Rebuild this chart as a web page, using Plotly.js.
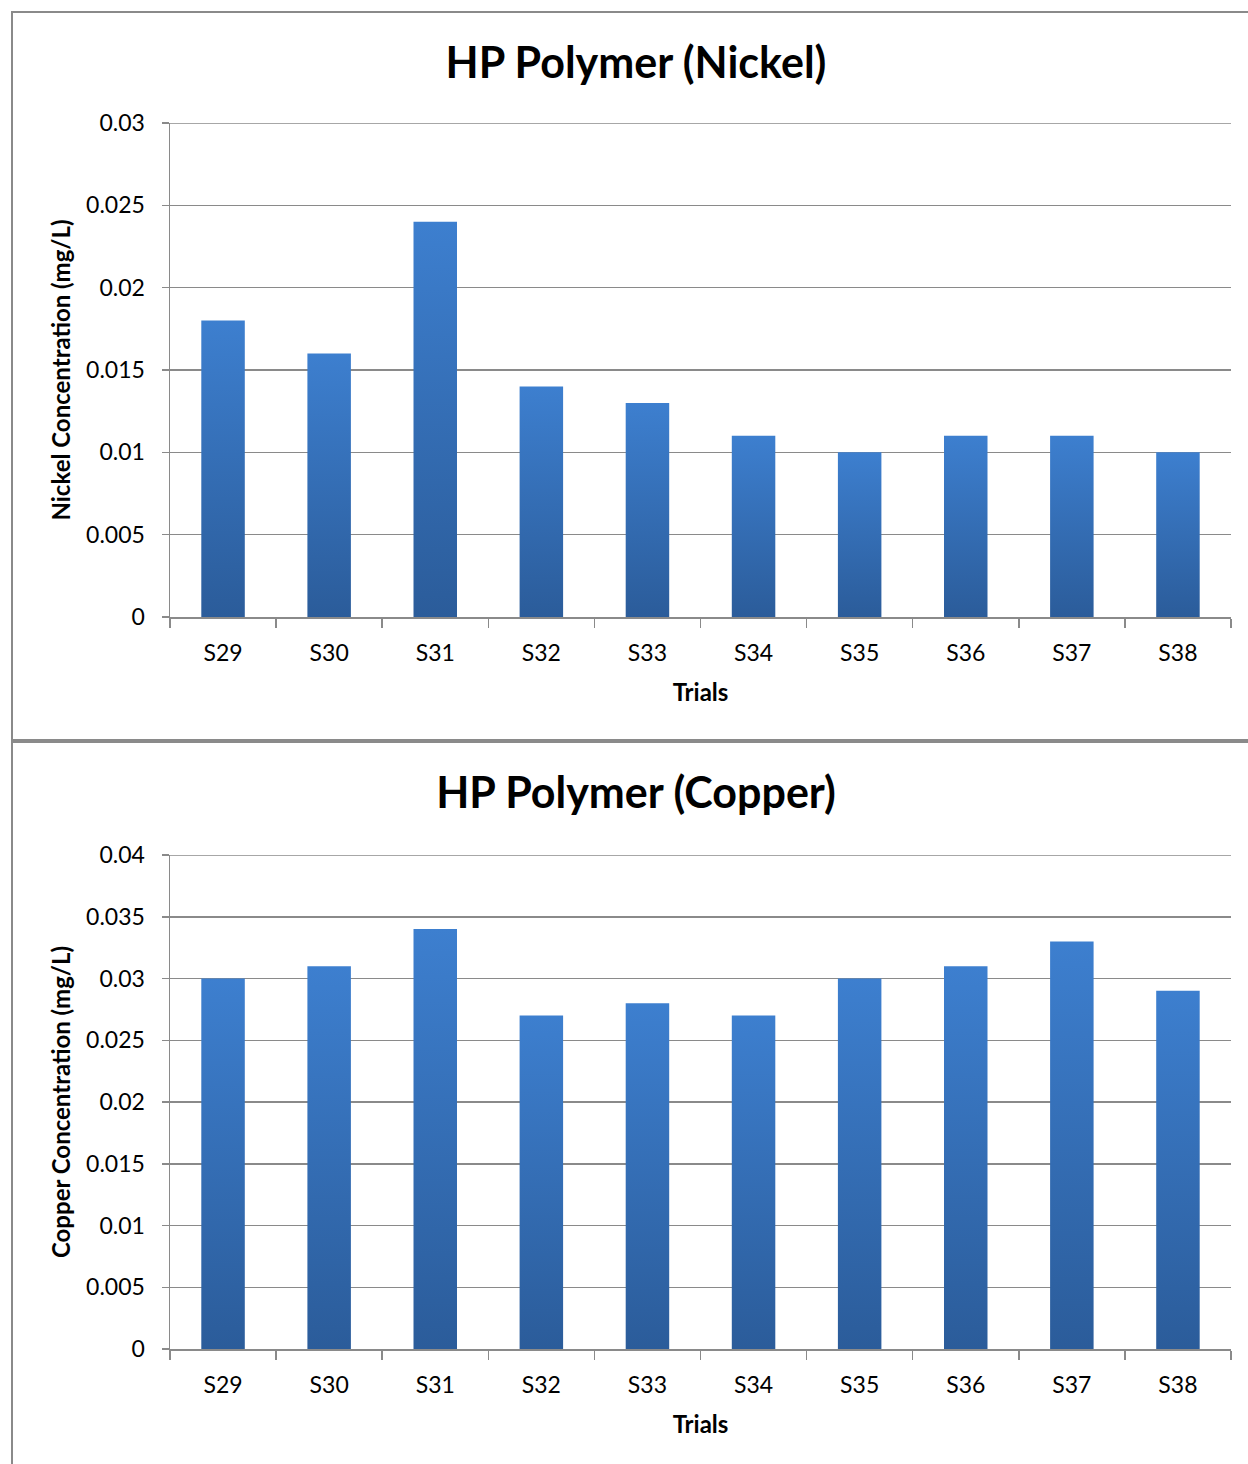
<!DOCTYPE html>
<html>
<head>
<meta charset="utf-8">
<script src="https://cdn.plot.ly/plotly-3.0.1.min.js"></script>
<style>
  html, body { margin: 0; padding: 0; background: #fff; width: 1248px; height: 1464px; overflow: hidden; position: relative; }
  .frame { position: absolute; left: 11px; border: 2px solid #8a8a8a; box-sizing: content-box; background: #fff; }
  #c1 { top: 11px; width: 1246px; height: 726px; }
  #c2 { top: 741px; width: 1246px; height: 730px; }
</style>
</head>
<body>
<svg width="0" height="0" style="position:absolute">
  <defs>
    <linearGradient id="barGrad" x1="0" y1="0" x2="0" y2="1">
      <stop offset="0%" stop-color="#3d7fcf"/>
      <stop offset="100%" stop-color="#2b5c9a"/>
    </linearGradient>
  </defs>
</svg>
<div id="c1" class="frame"></div>
<div id="c2" class="frame"></div>
<script>
const trials = ["S29", "S30", "S31", "S32", "S33", "S34", "S35", "S36", "S37", "S38"];
const nickel = [0.018, 0.016, 0.024, 0.014, 0.013, 0.011, 0.010, 0.011, 0.011, 0.010];
const copper = [0.030, 0.031, 0.034, 0.027, 0.028, 0.027, 0.030, 0.031, 0.033, 0.029];
const nickelTicks = [0, 0.005, 0.01, 0.015, 0.02, 0.025, 0.03];
const nickelTickText = ["0", "0.005", "0.01", "0.015", "0.02", "0.025", "0.03"];
const copperTicks = [0, 0.005, 0.01, 0.015, 0.02, 0.025, 0.03, 0.035, 0.04];
const copperTickText = ["0", "0.005", "0.01", "0.015", "0.02", "0.025", "0.03", "0.035", "0.04"];

const FONT = "Lato, 'Open Sans', sans-serif";

function makeChart(id, title, ytitle, values, ticks, tickText, ymax, mt, mb) {
  const H = id === "c1" ? 726 : 730;
  const trace = {
    type: "bar",
    x: trials,
    y: values,
    marker: { color: "#3571bd", line: { width: 0 } },
    hoverinfo: "x+y"
  };
  const layout = {
    width: 1246,
    height: H,
    margin: { l: 157, r: 28, t: mt, b: mb, pad: 0 },
    paper_bgcolor: "#fff",
    plot_bgcolor: "#fff",
    showlegend: false,
    bargap: 0.59,
    font: { family: FONT, color: "#000", size: 23 },
    title: {
      text: "<b>" + title + "</b>",
      font: { family: FONT, size: 43, color: "#000" },
      xref: "container", x: 0.5, xanchor: "center",
      yref: "container", y: 1 - 50 / H, yanchor: "middle"
    },
    shapes: [{
      type: "line", layer: "below",
      xref: "paper", x0: 0, x1: 1,
      yref: "y", y0: ticks[ticks.length - 1], y1: ticks[ticks.length - 1],
      line: { color: "#8a8a8a", width: 1.5 }
    }],
    xaxis: {
      type: "category",
      tickson: "boundaries",
      ticks: "outside", ticklen: 9, tickwidth: 1.5, tickcolor: "#8a8a8a",
      showline: true, linecolor: "#8a8a8a", linewidth: 1.5,
      showgrid: false,
      ticklabelstandoff: 15,
      tickfont: { family: FONT, size: 23, color: "#000" },
      title: { text: "<b>Trials</b>", font: { family: FONT, size: 24, color: "#000" }, standoff: 19 }
    },
    yaxis: {
      range: [0, ymax],
      tickmode: "array", tickvals: ticks, ticktext: tickText,
      ticks: "outside", ticklen: 7, tickwidth: 1.5, tickcolor: "#8a8a8a",
      showline: true, linecolor: "#8a8a8a", linewidth: 1.5,
      showgrid: true, gridcolor: "#8a8a8a", gridwidth: 1.5,
      zeroline: false,
      ticklabelstandoff: 12,
      tickfont: { family: FONT, size: 23, color: "#000" },
      title: { text: "<b>" + ytitle + "</b>", font: { family: FONT, size: 24, color: "#000" }, standoff: 8 }
    }
  };
  return Plotly.newPlot(id, [trace], layout, { staticPlot: true, displayModeBar: false }).then(gd => {
    gd.querySelectorAll(".trace.bars .point path").forEach(p => {
      p.style.fill = "url(#barGrad)";
    });
  });
}

makeChart("c1", "HP Polymer (Nickel)", "Nickel Concentration (mg/L)", nickel, nickelTicks, nickelTickText, 0.03, 110, 122);
makeChart("c2", "HP Polymer (Copper)", "Copper Concentration (mg/L)", copper, copperTicks, copperTickText, 0.04, 112, 124);
</script>
</body>
</html>
